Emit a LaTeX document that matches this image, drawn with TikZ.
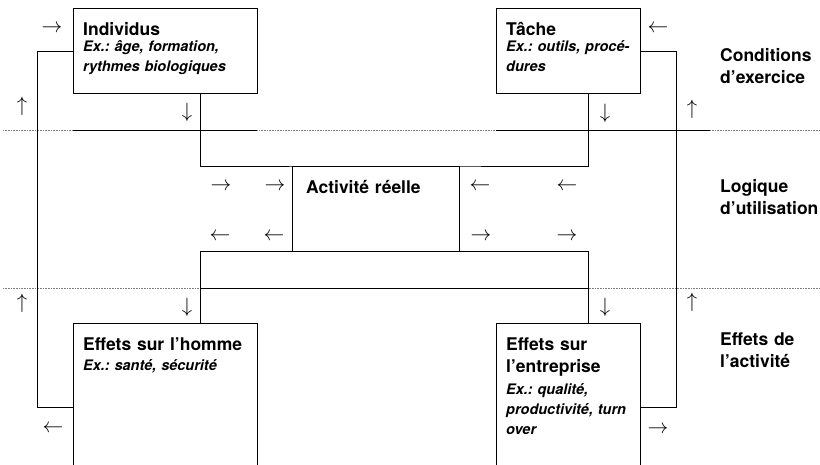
\documentclass[tikz,border=0pt]{standalone}
\usepackage{fontspec}
\setmainfont{TeX Gyre Heros}

\tikzset{
  box/.style={draw, line width=0.9pt, inner sep=0pt, anchor=north west},
  link/.style={line width=0.9pt},
  sep/.style={densely dotted, gray, line width=0.6pt},
  titletxt/.style={anchor=base west, inner sep=0pt, text width=170pt, align=left,
    font=\fontsize{17.5}{22}\selectfont\bfseries\frenchspacing},
  extxt/.style={anchor=base west, inner sep=0pt, text width=170pt, align=left,
    font=\fontsize{14.5}{20}\selectfont\bfseries\itshape\frenchspacing},
  arr/.style={inner sep=0pt, font=\fontsize{20}{20}\selectfont},
}

\begin{document}
\begin{tikzpicture}[x=1pt, y=-1pt]
                \useasboundingbox (0,0) rectangle (820,464);
                \draw[sep] (3,130) -- (820,130);
                \draw[sep] (3,288) -- (820,288);
                \draw[link] (73,130) -- (257,130);
                \draw[link] (496,130) -- (710,130);
                \draw[link] (200,288) -- (588,288);
                \node[box, minimum width=184pt, minimum height=85pt] (indiv) at (73,8) {};
                \node[box, minimum width=144pt, minimum height=85pt] (tache) at (496,8) {};
                \node[box, minimum width=167pt, minimum height=85pt] (act) at (292,166) {};
                \node[box, minimum width=184pt, minimum height=168pt] (effH) at (73,323) {};
                \node[box, minimum width=144pt, minimum height=168pt] (effE) at (496,323) {};
                \draw[link] (effH.west) -- ++(-36,0) |- (indiv.west);
                \draw[link] (effE.east) -- ++(36,0) |- (tache.east);
                \draw[link] ([xshift=35pt]indiv.south) |- (act.north) -| ([xshift=20pt]tache.south);
                \draw[link] ([xshift=35pt]effH.north) |- (act.south) -| ([xshift=20pt]effE.north);
                \node[titletxt] (indivT) at (83,35) {Individus};
                \node[extxt] (indivEx) at (83,51) {Ex.: âge, formation,\\rythmes biologiques};
                \node[titletxt] (tacheT) at (506,35) {Tâche};
                \node[extxt] (tacheEx) at (506,51) {Ex.: outils, procé-\\dures};
                \node[titletxt] (actT) at (306,193) {Activité réelle};
                \node[titletxt] (effHT) at (83,350) {Effets sur l’homme};
                \node[extxt] (effHEx) at (83,370) {Ex.: santé, sécurité};
                \node[titletxt] (effET) at (506,350) {Effets sur\\l’entreprise};
                \node[extxt] (effEEx) at (506,394) {Ex.: qualité,\\productivité, turn\\over};
                \node[titletxt] (cond) at (720,61) {Conditions\\d’exercice};
                \node[titletxt] (logi) at (720,192) {Logique\\d’utilisation};
                \node[titletxt] (effA) at (720,345) {Effets de\\l’activité};
                % arrows of the loops
                \node[arr] (arIn1) at (52,29) {\(\rightarrow\)};
                \node[arr] (arIn2) at (658,29) {\(\leftarrow\)};
                \node[arr] (arUp1) at (22,106) {\(\uparrow\)};
                \node[arr] (arDn1) at (187,112) {\(\downarrow\)};
                \node[arr] (arDn2) at (605,113) {\(\downarrow\)};
                \node[arr] (arUp2) at (692,109) {\(\uparrow\)};
                \node[arr] (arR1) at (221,187) {\(\rightarrow\)};
                \node[arr] (arR2) at (275,187) {\(\rightarrow\)};
                \node[arr] (arL1) at (480,187) {\(\leftarrow\)};
                \node[arr] (arL2) at (567,187) {\(\leftarrow\)};
                \node[arr] (arL3) at (220,237) {\(\leftarrow\)};
                \node[arr] (arL4) at (274,237) {\(\leftarrow\)};
                \node[arr] (arR3) at (481,237) {\(\rightarrow\)};
                \node[arr] (arR4) at (567,237) {\(\rightarrow\)};
                \node[arr] (arUp3) at (22,303) {\(\uparrow\)};
                \node[arr] (arDn3) at (187,307) {\(\downarrow\)};
                \node[arr] (arDn4) at (605,307) {\(\downarrow\)};
                \node[arr] (arUp4) at (692,302) {\(\uparrow\)};
                \node[arr] (arOut1) at (53,429) {\(\leftarrow\)};
                \node[arr] (arOut2) at (658,430) {\(\rightarrow\)};
\end{tikzpicture}
\end{document}
